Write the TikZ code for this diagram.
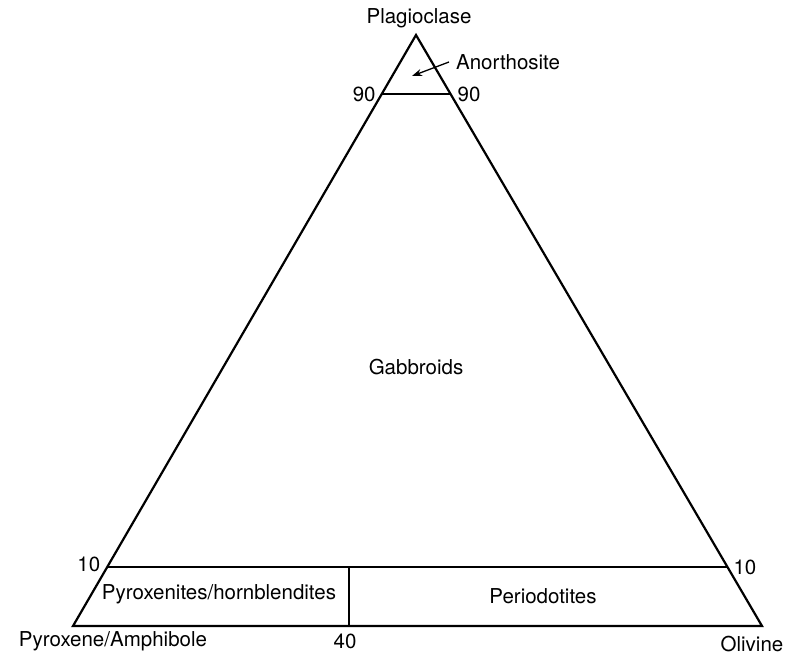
\documentclass[tikz,border=0pt]{standalone}
\usepackage{fontspec}
\setmainfont{TeX Gyre Heros}
\usetikzlibrary{calc,arrows.meta}
\tikzset{>=stealth}
\tikzset{lbl/.style={font=\fontsize{20.5}{24}\selectfont,inner sep=0pt}}

\begin{document}
\begin{tikzpicture}[x=1pt,y=-1pt,line width=2.2pt]
\useasboundingbox (0,0) rectangle (800,656);

% Corners
\coordinate (P) at (416,35);
\coordinate (Px) at (73,626);
\coordinate (Ol) at (762,626);

% 90 line
\coordinate (L90) at ($(Px)!0.9!(P)$);
\coordinate (R90) at ($(Ol)!0.9!(P)$);

% 10 line
\coordinate (L10) at ($(Px)!0.1!(P)$);
\coordinate (R10) at ($(Ol)!0.1!(P)$);

% 40 divider
\coordinate (B40) at ($(Px)!0.4!(Ol)$);
\coordinate (T40) at (B40 |- L10);

% Arrow tip
\coordinate (anortip) at (412,76);

\draw (P) -- (Px) -- (Ol) -- cycle;
\draw (L90) -- (R90);
\draw (L10) -- (R10);
\draw (B40) -- (T40);

\node[lbl] (plag) at (419,18) {Plagioclase};
\node[lbl,anchor=west] (anor) at (455,62) {Anorthosite};
\draw[-{Stealth[length=10pt,width=7pt]},line width=1.3pt]
  ($(anor.west)+(-6,0)$) -- (anortip);
\node[lbl,anchor=east] (l90) at ($(L90)+(-5,0)$) {90};
\node[lbl,anchor=west] (r90) at ($(R90)+(6,0)$) {90};

\node[lbl] (gab) at (416,367) {Gabbroids};

\node[lbl,anchor=east] (l10) at ($(L10)+(-6,-3)$) {10};
\node[lbl,anchor=west] (r10) at ($(R10)+(5,0)$) {10};

\node[lbl] (pyx) at (219,594) {Pyroxenites/hornblendites};
\node[lbl] (per) at (543,596) {Periodotites};

\node[lbl] (pxam) at (113,641) {Pyroxene/Amphibole};
\node[lbl] (b40) at (345,641) {40};
\node[lbl] (oliv) at (752,644) {Olivine};
\end{tikzpicture}
\end{document}
